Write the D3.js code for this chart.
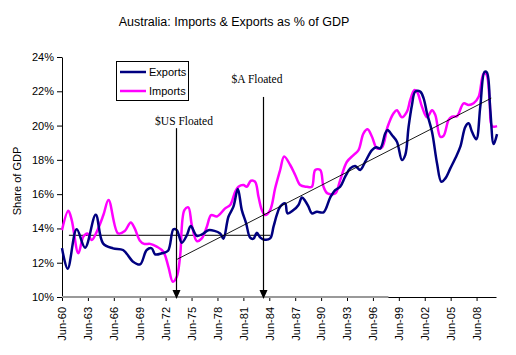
<!DOCTYPE html>
<html><head><meta charset="utf-8">
<script src="https://cdn.jsdelivr.net/npm/d3@7"></script>
<style>body{margin:0;background:#fff;}svg{display:block;font-family:Arial,"Liberation Sans",sans-serif;}</style>
</head><body><svg id="c" width="516" height="355"></svg>
<script>
const title = "Australia: Imports & Exports as % of GDP";
const yAxisTitle = "Share of GDP";
const seriesNames = ["Exports", "Imports"];
const seriesColors = ["#000080", "#FF00FF"];
const tickYears = [1960.5,1963.5,1966.5,1969.5,1972.5,1975.5,1978.5,1981.5,1984.5,1987.5,1990.5,1993.5,1996.5,1999.5,2002.5,2005.5,2008.5];
const tickLabels = ["Jun-60","Jun-63","Jun-66","Jun-69","Jun-72","Jun-75","Jun-78","Jun-81","Jun-84","Jun-87","Jun-90","Jun-93","Jun-96","Jun-99","Jun-02","Jun-05","Jun-08"];
const yTicks = [10,12,14,16,18,20,22,24];

const exportYears = [1960.5,1961.16,1962.2,1963.17,1964.4,1965.25,1966.41,1967.57,1968.73,1969.54,1970.31,1970.89,1971.28,1972.05,1972.78,1973.4,1973.79,1974.37,1974.95,1975.41,1976.11,1976.87,1977.45,1978.81,1979.19,1979.77,1980.35,1980.86,1981.32,1981.82,1982.28,1982.67,1983.06,1983.44,1983.83,1984.6,1984.99,1985.38,1985.76,1986.34,1986.61,1987.3,1987.88,1988.28,1988.66,1989.04,1989.43,1990.01,1990.78,1991.55,1992.13,1992.71,1993.29,1993.87,1994.45,1995.03,1995.61,1996.39,1996.88,1997.35,1997.93,1998.2,1998.7,1999.28,1999.86,2000.24,2000.63,2001.02,2001.4,2001.98,2002.37,2002.76,2003.34,2003.92,2004.42,2004.88,2005.46,2006.04,2006.62,2007.2,2007.58,2007.97,2008.47,2008.93,2009.43,2009.7,2010.09,2010.48,2010.87];
const exportValues = [12.85,11.65,13.95,12.88,14.8,13.13,12.84,12.74,12.06,11.9,12.74,12.84,12.49,12.55,12.7,13.95,13.9,13.17,13.6,14.14,13.57,13.7,13.9,13.71,13.4,14.68,15.27,16.3,15.07,14.3,13.46,13.4,13.75,13.48,13.36,13.42,14.1,14.8,15.27,15.46,14.88,15.07,15.37,15.8,15.6,15.27,14.88,14.97,14.94,15.8,16.24,16.43,17.02,17.5,17.64,17.41,17.89,18.57,18.73,18.67,19.55,19.74,19.45,19.06,17.99,18.28,19.93,21.2,21.98,21.98,21.59,20.72,19.64,17.8,16.72,16.92,17.5,18.09,18.77,19.93,20.13,19.64,19.2,21.1,23.14,23.1,20.9,18.92,19.5];

const importYears = [1960.5,1961.23,1961.62,1962.39,1962.97,1963.43,1963.94,1964.52,1965.29,1965.89,1966.99,1967.77,1968.46,1968.92,1969.5,1970.0,1970.7,1971.47,1972.24,1972.82,1973.33,1973.79,1974.17,1974.67,1975.13,1975.53,1976.11,1976.69,1977.27,1977.77,1978.43,1979.39,1979.97,1980.55,1980.93,1981.51,1981.9,1982.37,1982.86,1983.25,1983.64,1984.02,1984.6,1985.18,1985.76,1986.22,1986.92,1987.5,1988.08,1988.85,1989.43,1989.82,1990.4,1990.78,1991.24,1992.13,1992.71,1993.49,1994.25,1994.83,1995.41,1995.88,1996.39,1996.97,1997.55,1998.2,1998.89,1999.28,1999.86,2000.44,2000.82,2001.29,2001.6,2002.18,2002.76,2003.34,2003.72,2004.3,2004.68,2005.26,2005.66,2006.24,2007.0,2007.58,2008.16,2008.74,2009.32,2009.63,2010.02,2010.29,2010.87];
const importValues = [13.9,15.03,14.5,12.55,13.52,13.71,13.32,13.8,14.78,15.66,13.71,13.85,14.35,14.0,13.3,13.1,13.1,12.94,12.64,11.76,10.89,11.18,12.35,15.07,15.23,14.2,13.26,13.42,14.1,14.78,14.7,15.17,15.37,16.14,16.43,16.53,16.43,16.78,16.72,15.85,15.07,14.78,15.07,16.34,17.41,18.2,17.7,17.12,16.53,16.43,16.43,17.41,17.41,16.43,16.04,16.04,16.82,17.89,18.28,18.57,19.55,19.78,19.35,18.67,18.73,19.93,20.72,20.9,20.48,20.81,21.49,22.07,21.98,21.1,20.48,20.9,20.62,19.35,19.4,20.33,20.52,20.55,21.3,21.2,21.3,21.68,23.04,23.0,21.4,19.97,19.97];

const trendYears = [1973.83, 2010.21];
const trendValues = [12.2, 21.6];
const levelYears = [1961.3, 1984.6];
const levelValues = [13.6, 13.6];
const baseYears = [1960.5, 1998.3];
const baseValues = [10, 10];
const eventNames = ["$US Floated", "$A Floated"];
const eventYears = [1973.75, 1983.8];
const eventTops = [19.85, 21.67];

const svg = d3.select("#c");
const x = d3.scaleLinear().domain([1960.5, 2010.75]).range([62, 496]);
const y = d3.scaleLinear().domain([10, 24]).range([297, 57]);

// title
svg.append("text").attr("x", 234).attr("y", 26).attr("text-anchor", "middle")
  .attr("font-size", 12.5).attr("fill", "#000").text(title);

// y axis title
svg.append("text").attr("transform", "translate(21,181) rotate(-90)")
  .attr("text-anchor", "middle").attr("font-size", 11).text(yAxisTitle);

// y axis
const yAxis = svg.append("g").attr("transform", "translate(62,0)")
  .call(d3.axisLeft(y).tickValues(yTicks).tickSize(5).tickSizeOuter(0).tickFormat(d => d + "%"));
yAxis.selectAll("text").attr("font-size", 11).attr("font-family", "Arial, 'Liberation Sans', sans-serif").attr("fill", "#000").attr("x", -8);
yAxis.selectAll("line,path").attr("stroke", "#000");

// x axis
const xAxis = svg.append("g").attr("transform", "translate(0,297)")
  .call(d3.axisBottom(x).tickValues(tickYears).tickSize(4).tickSizeOuter(0).tickFormat((d, i) => tickLabels[i]));
xAxis.selectAll("text").attr("font-size", 11).attr("font-family", "Arial, 'Liberation Sans', sans-serif")
  .attr("fill", "#000").attr("transform", "rotate(-90)").attr("text-anchor", "end")
  .attr("x", -10).attr("y", 0).attr("dy", "0.35em");
xAxis.selectAll("line,path").attr("stroke", "#000");

// gray base line over axis
const line = d3.line().x(d => x(d[0])).y(d => y(d[1]));
svg.append("path").attr("d", line(baseYears.map((t, i) => [t, baseValues[i]])))
  .attr("stroke", "#999").attr("stroke-width", 2).attr("fill", "none");

// reference lines
svg.append("path").attr("d", line(levelYears.map((t, i) => [t, levelValues[i]])))
  .attr("stroke", "#000").attr("stroke-width", 1).attr("fill", "none");

// series
const smooth = d3.line().x(d => x(d[0])).y(d => y(d[1])).curve(d3.curveCatmullRom.alpha(0.5));
const series = [
  importYears.map((t, i) => [t, importValues[i]]),
  exportYears.map((t, i) => [t, exportValues[i]])
];
svg.append("path").attr("d", smooth(series[0])).attr("stroke", seriesColors[1]).attr("stroke-width", 2.5).attr("fill", "none");
svg.append("path").attr("d", smooth(series[1])).attr("stroke", seriesColors[0]).attr("stroke-width", 2.5).attr("fill", "none");

svg.append("path").attr("d", line(trendYears.map((t, i) => [t, trendValues[i]])))
  .attr("stroke", "#000").attr("stroke-width", 0.9).attr("fill", "none");

// event arrows
eventYears.forEach((t, i) => {
  const ex = Math.round(x(t)) + 0.5;
  svg.append("line").attr("x1", ex).attr("x2", ex).attr("y1", y(eventTops[i])).attr("y2", 292)
    .attr("stroke", "#000").attr("stroke-width", 1.2);
  svg.append("path").attr("d", `M${ex-4},290 L${ex+4},290 L${ex},299 Z`).attr("fill", "#000");
  svg.append("text").attr("x", ex + (i === 0 ? 7.5 : -6.5)).attr("y", y(eventTops[i]) - (i === 0 ? 3 : 14))
    .attr("text-anchor", "middle").attr("font-family", "'Liberation Serif','Times New Roman',serif")
    .attr("font-size", 11.5).text(eventNames[i]);
});

// legend
const lg = svg.append("g");
lg.append("rect").attr("x", 116.5).attr("y", 61.5).attr("width", 72).attr("height", 39)
  .attr("fill", "#fff").attr("stroke", "#000").attr("stroke-width", 1);
seriesNames.forEach((n, i) => {
  const ly = 72 + i * 19;
  lg.append("line").attr("x1", 120).attr("x2", 146).attr("y1", ly).attr("y2", ly)
    .attr("stroke", seriesColors[i]).attr("stroke-width", 2.5);
  lg.append("text").attr("x", 149).attr("y", ly + 4).attr("font-size", 11).text(n);
});
</script></body></html>
